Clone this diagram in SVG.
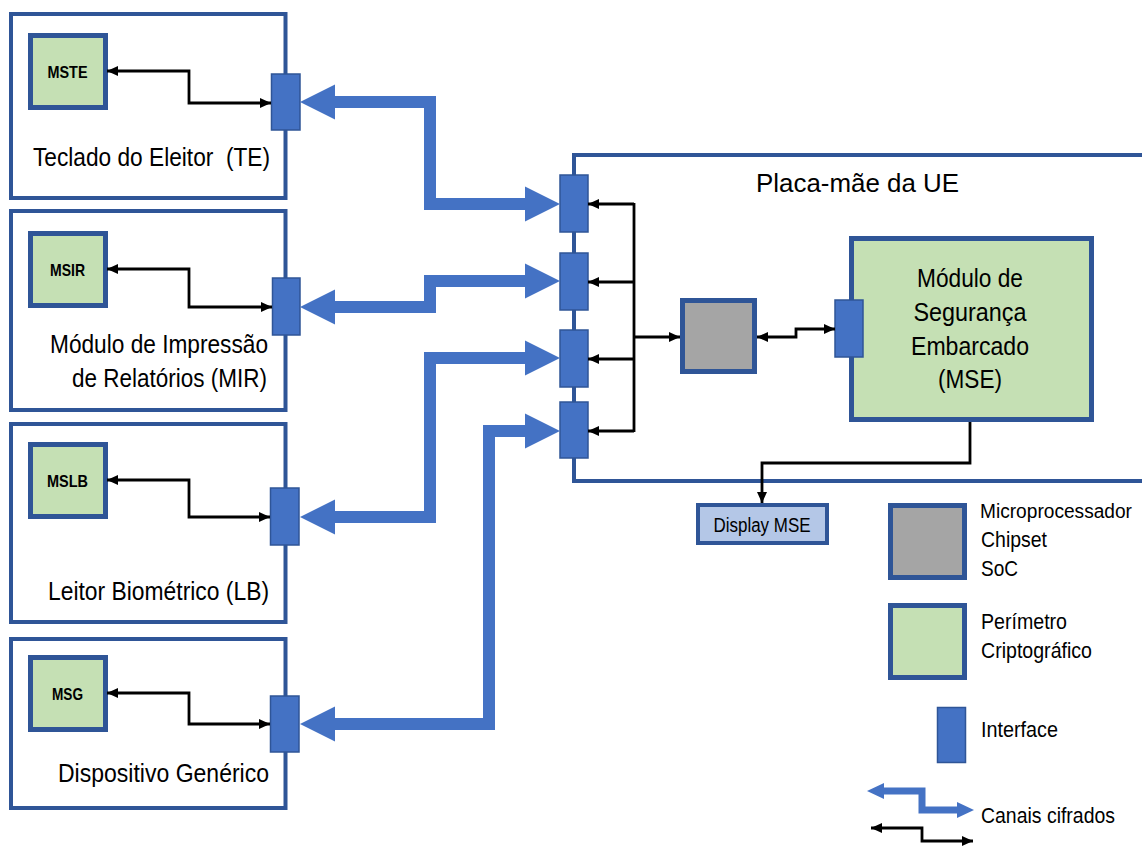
<svg xmlns="http://www.w3.org/2000/svg" width="1142" height="846" viewBox="0 0 1142 846">
<style>
.box{fill:#fff;stroke:#2F5597;stroke-width:4}
.ms{fill:#C5E0B4;stroke:#2F5597;stroke-width:5}
.cpu{fill:#A5A5A5;stroke:#2F5597;stroke-width:5}
.if{fill:#4472C4;stroke:#2F5597;stroke-width:1.5}
.blk{fill:none;stroke:#000;stroke-width:2.8;marker-start:url(#ah);marker-end:url(#ah)}
.blk1{fill:none;stroke:#000;stroke-width:2.8;marker-end:url(#ah)}
.bl{fill:none;stroke:#4472C4;stroke-width:12;stroke-linejoin:miter}
.bh{fill:#4472C4}
text{font-family:"Liberation Sans",Arial,sans-serif;fill:#000}
.lbl{font-size:25px}
.msl{font-size:17px;font-weight:bold;text-anchor:middle}
.leg{font-size:22px}
</style>
<defs>
<marker id="ah" markerUnits="userSpaceOnUse" viewBox="0 0 11 10" refX="11" refY="5" markerWidth="11" markerHeight="10" orient="auto-start-reverse">
<path d="M0,0 L11,5 L0,10 z" fill="#000"/>
</marker>
</defs>
<rect width="1142" height="846" fill="#fff"/>

<g id="board">
<rect class="box" x="574" y="155" width="580" height="326"/>
<text x="756" y="192" font-size="26" textLength="203" lengthAdjust="spacingAndGlyphs">Placa-mãe da UE</text>
</g>

<g id="box-te">
<rect class="box" x="11" y="14" width="274.5" height="184"/>
<text class="lbl" x="33" y="166" textLength="237" lengthAdjust="spacingAndGlyphs" xml:space="preserve">Teclado do Eleitor  (TE)</text>
</g>
<g id="mste">
<rect class="ms" x="30.5" y="35.5" width="75" height="72"/>
<text class="msl" x="67.5" y="78" textLength="40" lengthAdjust="spacingAndGlyphs">MSTE</text>
</g>
<g id="if-te"><rect class="if" x="271.5" y="74" width="28.5" height="56"/></g>

<g id="box-mir">
<rect class="box" x="11" y="211" width="274.5" height="199"/>
<text class="lbl" x="50" y="353" textLength="218" lengthAdjust="spacingAndGlyphs">Módulo de Impressão</text>
<text class="lbl" x="72" y="387" textLength="195" lengthAdjust="spacingAndGlyphs">de Relatórios (MIR)</text>
</g>
<g id="msir">
<rect class="ms" x="30.5" y="233.5" width="75" height="72"/>
<text class="msl" x="67.5" y="276" textLength="35" lengthAdjust="spacingAndGlyphs">MSIR</text>
</g>
<g id="if-mir"><rect class="if" x="272.5" y="278" width="27.5" height="57"/></g>

<g id="box-lb">
<rect class="box" x="11" y="424" width="274.5" height="198"/>
<text class="lbl" x="48" y="600" textLength="221" lengthAdjust="spacingAndGlyphs">Leitor Biométrico (LB)</text>
</g>
<g id="mslb">
<rect class="ms" x="30.5" y="444.5" width="75" height="72"/>
<text class="msl" x="67.5" y="487" textLength="41" lengthAdjust="spacingAndGlyphs">MSLB</text>
</g>
<g id="if-lb"><rect class="if" x="270.5" y="488" width="28.5" height="57"/></g>

<g id="box-dg">
<rect class="box" x="11" y="639" width="274.5" height="169"/>
<text class="lbl" x="58" y="782" textLength="211" lengthAdjust="spacingAndGlyphs">Dispositivo Genérico</text>
</g>
<g id="msg">
<rect class="ms" x="30.5" y="657.5" width="75" height="72"/>
<text class="msl" x="67.5" y="700" textLength="31" lengthAdjust="spacingAndGlyphs">MSG</text>
</g>
<g id="if-dg"><rect class="if" x="270.5" y="696" width="28.5" height="56"/></g>

<g id="board-ifs">
<rect class="if" x="560" y="175" width="28" height="57"/>
<rect class="if" x="560" y="253" width="28" height="57"/>
<rect class="if" x="560" y="330" width="28" height="57"/>
<rect class="if" x="560" y="402" width="28" height="56"/>
</g>

<g id="cpu"><rect class="cpu" x="682.5" y="300.5" width="72" height="71"/></g>

<g id="mse">
<rect class="ms" x="851.5" y="238.5" width="240" height="181"/>
<g font-size="25" text-anchor="middle">
<text x="970" y="287" textLength="106" lengthAdjust="spacingAndGlyphs">Módulo de</text>
<text x="970" y="321" textLength="113" lengthAdjust="spacingAndGlyphs">Segurança</text>
<text x="970" y="355" textLength="118" lengthAdjust="spacingAndGlyphs">Embarcado</text>
<text x="970" y="388" textLength="64" lengthAdjust="spacingAndGlyphs">(MSE)</text>
</g>
</g>
<g id="if-mse"><rect class="if" x="835" y="300" width="28" height="57"/></g>

<g id="display">
<rect x="698" y="505" width="129" height="38" fill="#B4C7E7" stroke="#2F5597" stroke-width="4"/>
<text x="762" y="532" font-size="20" text-anchor="middle" textLength="97" lengthAdjust="spacingAndGlyphs">Display MSE</text>
</g>

<g id="connectors">
<path class="blk" d="M107,71 H189 V103 H271"/>
<path class="blk" d="M107,269 H189 V307 H272"/>
<path class="blk" d="M107,480 H189 V517 H270"/>
<path class="blk" d="M107,693 H189 V724 H270"/>
<path d="M634,203 V432" fill="none" stroke="#000" stroke-width="2.8"/>
<path class="blk1" d="M634,204 H588"/>
<path class="blk1" d="M634,282 H588"/>
<path class="blk1" d="M634,359 H588"/>
<path class="blk1" d="M634,431 H588"/>
<path class="blk1" d="M634,337 H680"/>
<path class="blk" d="M757,337 H796 V329 H835"/>
<path class="blk1" d="M970,422 V463 H762 V503"/>
<path class="bl" d="M335,102 H430 V204 H525"/>
<polygon class="bh" points="300,102 335,84.5 335,119.5"/>
<polygon class="bh" points="560,204 525,186.5 525,221.5"/>
<path class="bl" d="M335,307 H430 V281 H525"/>
<polygon class="bh" points="300,307 335,289.5 335,324.5"/>
<polygon class="bh" points="560,281 525,263.5 525,298.5"/>
<path class="bl" d="M335,517 H430 V358 H525"/>
<polygon class="bh" points="300,517 335,499.5 335,534.5"/>
<polygon class="bh" points="560,358 525,340.5 525,375.5"/>
<path class="bl" d="M335,724 H489 V431 H525"/>
<polygon class="bh" points="300,724 335,706.5 335,741.5"/>
<polygon class="bh" points="560,431 525,413.5 525,448.5"/>
</g>

<g id="legend">
<rect class="cpu" x="890.5" y="505.5" width="74" height="72"/>
<text x="980" y="518" font-size="20" textLength="152" lengthAdjust="spacingAndGlyphs">Microprocessador</text>
<text class="leg" x="981" y="547" textLength="66" lengthAdjust="spacingAndGlyphs">Chipset</text>
<text class="leg" x="981" y="576" textLength="37" lengthAdjust="spacingAndGlyphs">SoC</text>
<rect class="ms" x="890.5" y="605.5" width="74" height="72"/>
<text class="leg" x="981" y="629" textLength="86" lengthAdjust="spacingAndGlyphs">Perímetro</text>
<text class="leg" x="981" y="658" textLength="111" lengthAdjust="spacingAndGlyphs">Criptográfico</text>
<rect class="if" x="937.5" y="707.5" width="28" height="55"/>
<text class="leg" x="981" y="737" textLength="77" lengthAdjust="spacingAndGlyphs">Interface</text>
<path d="M883,791 H922 V810 H958" fill="none" stroke="#4472C4" stroke-width="7"/>
<polygon class="bh" points="867,791 884,783 884,799"/>
<polygon class="bh" points="974,810 957,802 957,818"/>
<text class="leg" x="981" y="823" textLength="134" lengthAdjust="spacingAndGlyphs">Canais cifrados</text>
<path class="blk" d="M871,828 H922 V841 H973"/>
</g>
</svg>
